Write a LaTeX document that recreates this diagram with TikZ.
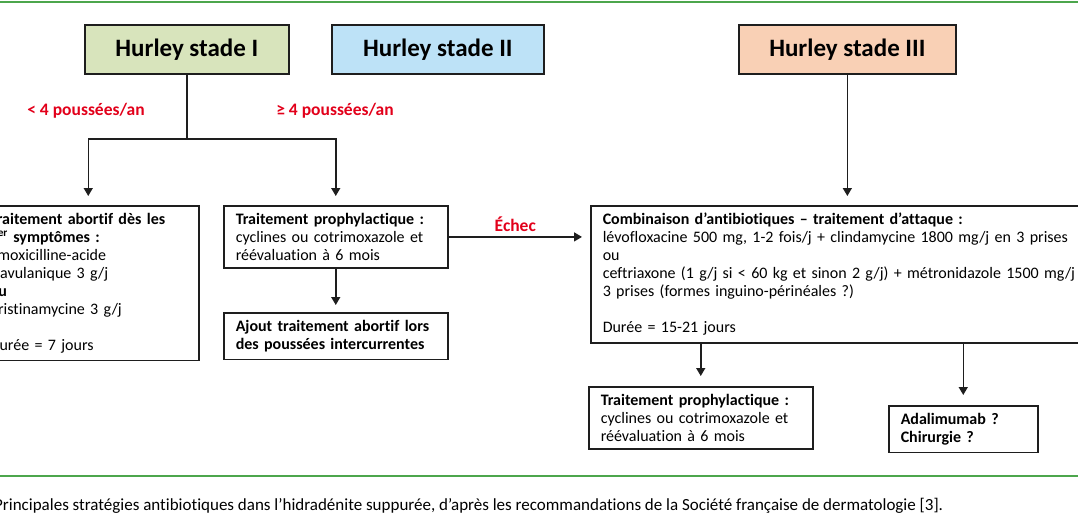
\documentclass[tikz,border=0pt]{standalone}
\usepackage{fontspec}
\setmainfont{Carlito}[Ligatures=NoCommon]
\usetikzlibrary{arrows.meta,positioning,calc}
\definecolor{stageone}{HTML}{D8E4BC}
\definecolor{stagetwo}{HTML}{BDE2F7}
\definecolor{stagethree}{HTML}{F9D0B5}
\definecolor{alertred}{HTML}{E2001A}
\definecolor{framegreen}{HTML}{4CA64C}
\definecolor{inkdark}{HTML}{1E1E1E}

\begin{document}
\begin{tikzpicture}[x=1pt, y=-1pt,
  stagebox/.style={draw=inkdark, line width=1.7pt, minimum height=49pt, inner sep=0pt,
    anchor=north west, font=\fontsize{25}{28}\selectfont\bfseries},
  txtbox/.style={draw=inkdark, line width=1.5pt, anchor=north west, align=left,
    inner xsep=12pt, inner ysep=7.5pt, font=\fontsize{16}{18}\selectfont},
  arr/.style={-{Triangle[width=9pt,length=8pt]}, line width=1.5pt, inkdark},
  lbl/.style={font=\fontsize{17.5}{20}\selectfont\bfseries, text=alertred},
  rule/.style={framegreen, line width=2pt}]
  \useasboundingbox (0,0) rectangle (1078,516);
  \clip (0,0) rectangle (1078,516);

  % Green rules
  \draw[rule] (0,2) -- (1078,2);
  \draw[rule] (0,476) -- (1078,476);

  % Hurley stages
  \node[stagebox, fill=stageone, minimum width=204pt] (stadeI) at (84,24) {Hurley stade I};
  \node[stagebox, fill=stagetwo, minimum width=212pt] (stadeII) at (331,24) {Hurley stade II};
  \node[stagebox, fill=stagethree, minimum width=217pt] (stadeIII) at (738,24) {Hurley stade III};

  % Treatment boxes
  \node[txtbox, text width=197pt] (abortif) at (-23,205) {%
    \textbf{Traitement abortif dès les}\\
    \textbf{1\textsuperscript{er} symptômes :}\\
    amoxicilline-acide\\
    clavulanique 3 g/j\\
    \textbf{ou}\\
    pristinamycine 3 g/j\\[18pt]
    Durée = 7 jours};
  \node[txtbox, text width=200pt] (prophyl) at (223,205) {%
    \textbf{Traitement prophylactique :}\\
    cyclines ou cotrimoxazole et\\
    réévaluation à 6 mois};
  \node[txtbox, text width=200pt] (ajout) at (223,312) {%
    \textbf{Ajout traitement abortif lors}\\
    \textbf{des poussées intercurrentes}};
  \node[txtbox, text width=496pt] (combi) at (590,205) {%
    \textbf{Combinaison d’antibiotiques – traitement d’attaque :}\\
    lévofloxacine 500 mg, 1-2 fois/j + clindamycine 1800 mg/j en 3 prises\\
    ou\\
    ceftriaxone (1 g/j si < 60 kg et sinon 2 g/j) + métronidazole 1500 mg/j en\\
    3 prises (formes inguino-périnéales ?)\\[18pt]
    Durée = 15-21 jours};
  \node[txtbox, text width=200pt] (prophylB) at (588,386) {%
    \textbf{Traitement prophylactique :}\\
    cyclines ou cotrimoxazole et\\
    réévaluation à 6 mois};
  \node[txtbox, text width=125pt] (adali) at (888,405) {%
    \textbf{Adalimumab ?}\\
    \textbf{Chirurgie ?}};

  % Fork below stage I
  \coordinate (fork) at (stadeI.south |- 0,139);
  \draw[line width=1.5pt, inkdark] (stadeI.south) -- (fork);
  \draw[arr] (fork) -| ([yshift=9pt]abortif.north);
  \draw[arr] (fork) -| ([yshift=9pt]prophyl.north);
  \node[lbl] (lblLess) at (86,111) {< 4 poussées/an};
  \node[lbl] (lblMore) at (335,111) {≥ 4 poussées/an};

  % Other connectors
  \draw[arr] (prophyl) -- ([xshift=-8pt]combi.west |- prophyl)
    node[lbl, midway, above=1pt] (lblEchec) {Échec};
  \draw[arr] (prophyl) -- ([yshift=7pt]ajout.north);
  \draw[arr] (stadeIII.south) -- ([yshift=9pt]stadeIII.south |- combi.north);
  \draw[arr] (prophylB.north |- combi.south) -- ([yshift=10pt]prophylB.north);
  \draw[arr] (adali.north |- combi.south) -- ([yshift=10pt]adali.north);

  % Caption
  \node[anchor=base west, inner sep=0pt, font=\fontsize{17}{19}\selectfont] (caption) at (-6,510)
    {Principales stratégies antibiotiques dans l’hidradénite suppurée, d’après les recommandations de la Société française de dermatologie [3].};
\end{tikzpicture}
\end{document}
